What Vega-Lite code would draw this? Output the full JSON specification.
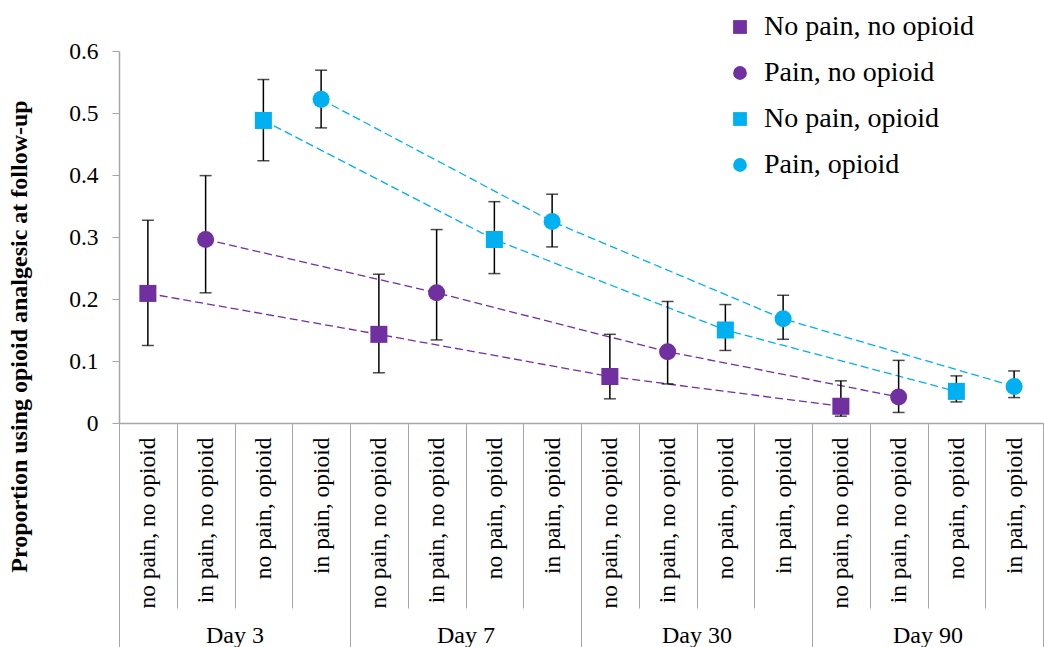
{
  "$schema": "https://vega.github.io/schema/vega-lite/v6.json",
  "width": 924,
  "height": 372,
  "autosize": {"type": "none"},
  "padding": {"left": 119, "top": 51, "right": 1, "bottom": 224},
  "config": {
    "view": {"stroke": null},
    "font": "Liberation Serif"
  },
  "data": {
    "values": [
      {"cat": "Day 3|no pain, no opioid", "day": "Day 3", "series": "No pain, no opioid", "mean": 0.209, "lo": 0.125, "hi": 0.327},
      {"cat": "Day 3|in pain, no opioid", "day": "Day 3", "series": "Pain, no opioid", "mean": 0.296, "lo": 0.210, "hi": 0.399},
      {"cat": "Day 3|no pain, opioid", "day": "Day 3", "series": "No pain, opioid", "mean": 0.488, "lo": 0.423, "hi": 0.554},
      {"cat": "Day 3|in pain, opioid", "day": "Day 3", "series": "Pain, opioid", "mean": 0.522, "lo": 0.476, "hi": 0.569},
      {"cat": "Day 7|no pain, no opioid", "day": "Day 7", "series": "No pain, no opioid", "mean": 0.143, "lo": 0.081, "hi": 0.240},
      {"cat": "Day 7|in pain, no opioid", "day": "Day 7", "series": "Pain, no opioid", "mean": 0.210, "lo": 0.134, "hi": 0.312},
      {"cat": "Day 7|no pain, opioid", "day": "Day 7", "series": "No pain, opioid", "mean": 0.296, "lo": 0.241, "hi": 0.357},
      {"cat": "Day 7|in pain, opioid", "day": "Day 7", "series": "Pain, opioid", "mean": 0.325, "lo": 0.284, "hi": 0.369},
      {"cat": "Day 30|no pain, no opioid", "day": "Day 30", "series": "No pain, no opioid", "mean": 0.075, "lo": 0.039, "hi": 0.143},
      {"cat": "Day 30|in pain, no opioid", "day": "Day 30", "series": "Pain, no opioid", "mean": 0.115, "lo": 0.063, "hi": 0.196},
      {"cat": "Day 30|no pain, opioid", "day": "Day 30", "series": "No pain, opioid", "mean": 0.150, "lo": 0.117, "hi": 0.191},
      {"cat": "Day 30|in pain, opioid", "day": "Day 30", "series": "Pain, opioid", "mean": 0.168, "lo": 0.135, "hi": 0.206},
      {"cat": "Day 90|no pain, no opioid", "day": "Day 90", "series": "No pain, no opioid", "mean": 0.027, "lo": 0.011, "hi": 0.068},
      {"cat": "Day 90|in pain, no opioid", "day": "Day 90", "series": "Pain, no opioid", "mean": 0.042, "lo": 0.017, "hi": 0.101},
      {"cat": "Day 90|no pain, opioid", "day": "Day 90", "series": "No pain, opioid", "mean": 0.051, "lo": 0.034, "hi": 0.076},
      {"cat": "Day 90|in pain, opioid", "day": "Day 90", "series": "Pain, opioid", "mean": 0.059, "lo": 0.041, "hi": 0.084}
    ]
  },
  "resolve": {"scale": {"x": "independent"}, "axis": {"x": "independent"}},
  "layer": [
    {
      "encoding": {
        "x": {
          "field": "cat",
          "type": "nominal",
          "scale": {
            "type": "band",
            "paddingInner": 0,
            "paddingOuter": 0,
            "domain": ["Day 3|no pain, no opioid", "Day 3|in pain, no opioid", "Day 3|no pain, opioid", "Day 3|in pain, opioid", "Day 7|no pain, no opioid", "Day 7|in pain, no opioid", "Day 7|no pain, opioid", "Day 7|in pain, opioid", "Day 30|no pain, no opioid", "Day 30|in pain, no opioid", "Day 30|no pain, opioid", "Day 30|in pain, opioid", "Day 90|no pain, no opioid", "Day 90|in pain, no opioid", "Day 90|no pain, opioid", "Day 90|in pain, opioid"]
          },
          "axis": {
            "orient": "bottom",
            "title": null,
            "labelExpr": "split(datum.value, '|')[1]",
            "labelAngle": 270,
            "labelFont": "Liberation Serif",
            "labelFontSize": 23.5,
            "labelColor": "#000000",
            "labelPadding": -171,
            "tickBand": "extent",
            "tickSize": 185,
            "tickColor": "#a6a6a6",
            "tickWidth": 1,
            "domainColor": "#a6a6a6",
            "domainWidth": 1.5,
            "labelOverlap": false
          }
        },
        "color": {"field": "series", "type": "nominal",
          "scale": {"domain": ["No pain, no opioid", "Pain, no opioid", "No pain, opioid", "Pain, opioid"], "range": ["#7030A0", "#7030A0", "#00B0F0", "#00B0F0"]},
          "legend": {
            "title": null,
            "orient": "none",
            "legendX": 607,
            "legendY": -38,
            "labelFont": "Liberation Serif",
            "labelFontSize": 28,
            "labelColor": "#000000",
            "labelLimit": 400,
            "symbolSize": 190,
            "symbolOpacity": 1,
            "symbolStrokeWidth": 0,
            "symbolType": "square",
            "rowPadding": 18,
            "labelOffset": 10
          }
        }
      },
      "layer": [
        {
          "mark": {"type": "line", "strokeDash": [8, 4], "strokeWidth": 1.3},
          "encoding": {
            "y": {
              "field": "mean",
              "type": "quantitative",
              "scale": {"domain": [0, 0.6], "nice": false},
              "axis": {
                "title": "Proportion using opioid analgesic at follow-up",
                "titleFont": "Liberation Serif",
                "titleFontSize": 24,
                "titleFontWeight": "bold",
                "titleColor": "#000000",
                "titleX": -88,
                "titleY": 285,
                "values": [0, 0.1, 0.2, 0.3, 0.4, 0.5, 0.6],
                "format": ".1~f",
                "labelFont": "Liberation Serif",
                "labelFontSize": 23.5,
                "labelColor": "#000000",
                "labelPadding": 14,
                "tickSize": 7,
                "tickColor": "#a6a6a6",
                "domainColor": "#a6a6a6",
                "domainWidth": 1.5,
                "grid": false
              }
            }
          }
        },
        {
          "mark": {"type": "rule", "color": "#000000", "strokeWidth": 1.5},
          "encoding": {
            "y": {"field": "lo", "type": "quantitative"},
            "y2": {"field": "hi"},
            "color": {"value": "#000000"}
          }
        },
        {
          "mark": {"type": "tick", "color": "#000000", "size": 12, "thickness": 1.5},
          "encoding": {"y": {"field": "lo", "type": "quantitative"}, "color": {"value": "#000000"}}
        },
        {
          "mark": {"type": "tick", "color": "#000000", "size": 12, "thickness": 1.5},
          "encoding": {"y": {"field": "hi", "type": "quantitative"}, "color": {"value": "#000000"}}
        },
        {
          "mark": {"type": "point", "filled": true, "opacity": 1, "size": 290},
          "encoding": {
            "y": {"field": "mean", "type": "quantitative"},
            "shape": {"field": "series", "type": "nominal",
              "scale": {"domain": ["No pain, no opioid", "Pain, no opioid", "No pain, opioid", "Pain, opioid"], "range": ["square", "circle", "square", "circle"]}}
          }
        }
      ]
    },
    {
      "mark": {"type": "point", "opacity": 0},
      "encoding": {
        "x": {
          "field": "day",
          "type": "nominal",
          "scale": {"type": "band", "paddingInner": 0, "paddingOuter": 0, "domain": ["Day 3", "Day 7", "Day 30", "Day 90"]},
          "axis": {
            "orient": "bottom",
            "title": null,
            "labelAngle": 0,
            "labelFont": "Liberation Serif",
            "labelFontSize": 24,
            "labelColor": "#000000",
            "labelPadding": -30,
            "tickBand": "extent",
            "tickSize": 230,
            "tickColor": "#a6a6a6",
            "tickWidth": 1,
            "domain": false
          }
        },
        "y": {"field": "mean", "type": "quantitative"}
      }
    }
  ]
}
